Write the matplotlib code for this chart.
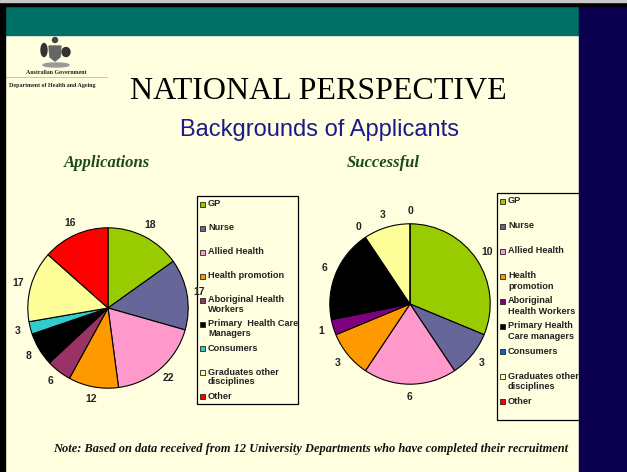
import numpy as np
import matplotlib.pyplot as plt
from matplotlib.patches import Rectangle, Ellipse, Polygon

# Data
apps_values = [18, 17, 22, 12, 6, 8, 3, 17, 16]
succ_values = [10, 3, 6, 3, 1, 6, 0, 3, 0]

apps_labels = ["GP", "Nurse", "Allied Health", "Health promotion",
               "Aboriginal Health\nWorkers", "Primary  Health Care\nManagers",
               "Consumers", "Graduates other\ndisciplines", "Other"]
succ_labels = ["GP", "Nurse", "Allied Health", "Health\npromotion",
               "Aboriginal\nHealth Workers", "Primary Health\nCare managers",
               "Consumers", "Graduates other\ndisciplines", "Other"]

apps_colors = ["#99cc00", "#666699", "#ff99cc", "#ff9900", "#993366",
               "#000000", "#33cccc", "#ffff99", "#ff0000"]
succ_colors = ["#99cc00", "#666699", "#ff99cc", "#ff9900", "#800080",
               "#000000", "#0066cc", "#ffff99", "#ff0000"]

W, H = 627, 472
cream = "#ffffe0"
teal = "#007066"
navy = "#0b0050"

fig = plt.figure(figsize=(W / 100, H / 100), dpi=100)
fig.patch.set_facecolor(cream)

# background axes in pixel coordinates
bg = fig.add_axes([0, 0, 1, 1])
bg.set_xlim(0, W)
bg.set_ylim(H, 0)
bg.axis("off")
bg.set_zorder(0)

bg.add_patch(Rectangle((0, 0), W, 6, color="black", zorder=5))
bg.add_patch(Rectangle((0, 0), W, 2, color="#c8c8c8", zorder=6))
bg.add_patch(Rectangle((0, 0), 5, H, color="black", zorder=5))
bg.add_patch(Rectangle((5, 6), 574, 29, color=teal, zorder=4))
bg.add_patch(Rectangle((579, 6), W - 579, H, color=navy, zorder=4))

# logo (rough crest + text)
bg.add_patch(Polygon([[49, 46], [61, 46], [60, 57], [55, 61], [50, 57]],
                     closed=True, color="#666666", zorder=2))
bg.add_patch(Ellipse((44, 50), 6, 13, color="#333333", zorder=2))
bg.add_patch(Ellipse((66, 52), 8, 9, color="#333333", zorder=2))
bg.add_patch(Ellipse((55, 40), 5, 5, color="#444444", zorder=2))
bg.add_patch(Ellipse((56, 65), 26, 4, color="#999999", zorder=2))
bg.text(56, 72, "Australian Government", fontsize=4.3, family="Liberation Serif",
        weight="bold", ha="center", va="center", color="#222222")
bg.plot([5, 107], [77, 77], color="#bbbbbb", lw=0.6)
bg.text(52, 86, "Department of Health and Ageing", fontsize=4.3,
        family="Liberation Serif", weight="bold", ha="center", va="center",
        color="#222222", zorder=1)

# titles
bg.text(318, 99, "NATIONAL PERSPECTIVE", fontsize=23, family="Liberation Serif",
        ha="center", va="baseline", color="black")
bg.text(319, 136, "Backgrounds of Applicants", fontsize=17, family="Liberation Sans",
        ha="center", va="baseline", color="#1a1a8c")
bg.text(107, 167, "Applications", fontsize=12, family="Liberation Serif",
        weight="bold", style="italic", ha="center", va="baseline", color="#1a4a1a")
bg.text(383, 167, "Successful", fontsize=12, family="Liberation Serif",
        weight="bold", style="italic", ha="center", va="baseline", color="#1a4a1a")
bg.text(311, 452, "Note: Based on data received from 12 University Departments "
        "who have completed their recruitment", fontsize=8.9, family="Liberation Serif",
        weight="bold", style="italic", ha="center", va="baseline", color="#111111")


def draw_legend(box, labels, colors, first, step, ls):
    x0, y0, x1, y1 = box
    bg.add_patch(Rectangle((x0, y0), x1 - x0, y1 - y0, fill=False,
                           edgecolor="black", lw=0.9, zorder=3))
    for i, (lab, col) in enumerate(zip(labels, colors)):
        y = first + i * step
        bg.add_patch(Rectangle((x0 + 3, y - 2.5), 5, 5, facecolor=col,
                               edgecolor="#222222", lw=0.6, zorder=3))
        bg.text(x0 + 11, y - 5.0, lab, fontsize=6.6, family="Liberation Sans",
                weight="bold", ha="left", va="top", color="#222222",
                linespacing=ls, zorder=3)


draw_legend((197, 196, 298, 404), apps_labels, apps_colors, 204, 24.1, 1.05)
draw_legend((497, 193, 590, 420), succ_labels, succ_colors, 201, 25.1, 1.25)


def draw_pie(cx, cy, r, values, colors):
    ax = fig.add_axes([(cx - r) / W, (H - cy - r) / H, 2 * r / W, 2 * r / H])
    ax.set_zorder(2)
    ax.patch.set_alpha(0)
    ax.pie(values, colors=colors, labels=[str(v) for v in values],
           startangle=90, counterclock=False, labeldistance=1.16,
           wedgeprops=dict(edgecolor="black", linewidth=0.8),
           textprops=dict(fontsize=7.5, weight="bold", family="Liberation Sans",
                          ha="center", va="center", color="#222222"))
    ax.set_xlim(-1.01, 1.01)
    ax.set_ylim(-1.01, 1.01)
    ax.set_aspect("equal")
    ax.axis("off")


draw_pie(108, 308, 81, apps_values, apps_colors)
draw_pie(410, 304, 81, succ_values, succ_colors)

plt.savefig("out.png", dpi=100, facecolor=fig.get_facecolor())
